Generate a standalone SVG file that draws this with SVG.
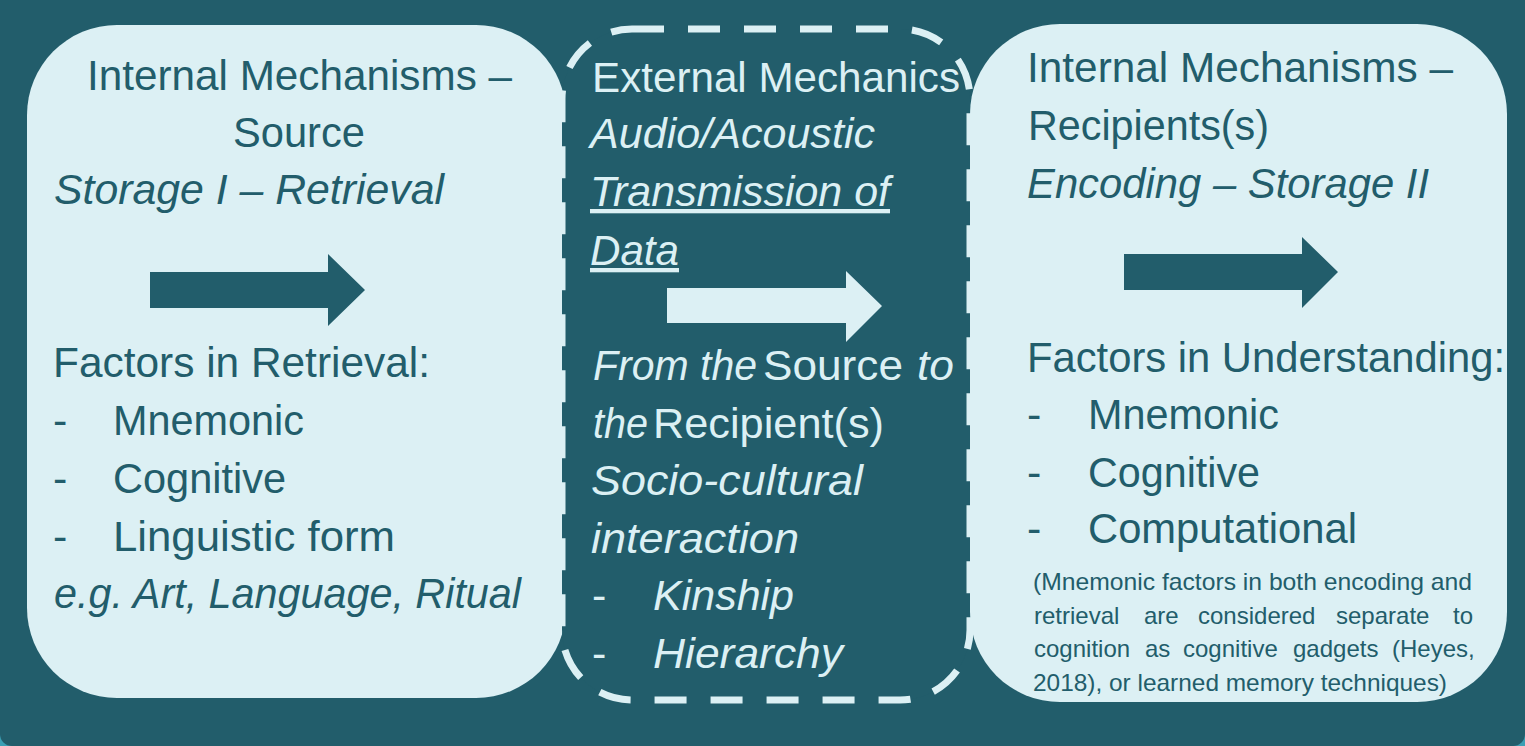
<svg xmlns="http://www.w3.org/2000/svg" width="1525" height="746" viewBox="0 0 1525 746">
<style>
  .t { font-family: "Liberation Sans", Arial, sans-serif; font-size: 43px; }
  .s { font-family: "Liberation Sans", Arial, sans-serif; font-size: 24px; }
  .dk { fill: #225d6b; }
  .lt { fill: #dcf0f4; }
  .it { font-style: italic; }
  .ul { text-decoration: underline; }
  .box { fill: #dcf0f4; }
</style>
<g id="background">
  <rect x="0" y="0" width="1525" height="746" fill="#3b9fb4"/>
  <path d="M0,0 H1525 V734 A12,12 0 0 1 1513,746 H12 A12,12 0 0 1 0,734 Z" fill="#225d6b"/>
</g>
<g id="node-source">
  <rect class="box" x="27" y="25" width="539" height="673" rx="90" ry="90"/>
  <text class="t dk" x="87" y="90" textLength="425" lengthAdjust="spacingAndGlyphs">Internal Mechanisms –</text>
  <text class="t dk" x="233" y="147" textLength="132" lengthAdjust="spacingAndGlyphs">Source</text>
  <text class="t dk it" x="54" y="204" textLength="390" lengthAdjust="spacingAndGlyphs">Storage I – Retrieval</text>
  <text class="t dk" x="53" y="377" textLength="377" lengthAdjust="spacingAndGlyphs">Factors in Retrieval:</text>
  <text class="t dk" x="53" y="435">-</text>
  <text class="t dk" x="113" y="435" textLength="191" lengthAdjust="spacingAndGlyphs">Mnemonic</text>
  <text class="t dk" x="53" y="493">-</text>
  <text class="t dk" x="113" y="493" textLength="173" lengthAdjust="spacingAndGlyphs">Cognitive</text>
  <text class="t dk" x="53" y="551">-</text>
  <text class="t dk" x="113" y="551" textLength="282" lengthAdjust="spacingAndGlyphs">Linguistic form</text>
  <text class="t dk it" x="54" y="608" textLength="467" lengthAdjust="spacingAndGlyphs">e.g. Art, Language, Ritual</text>
</g>
<g id="node-recipient">
  <rect class="box" x="970" y="24" width="537" height="678" rx="90" ry="90"/>
  <text class="t dk" x="1027" y="82" textLength="426" lengthAdjust="spacingAndGlyphs">Internal Mechanisms –</text>
  <text class="t dk" x="1028" y="140" textLength="241" lengthAdjust="spacingAndGlyphs">Recipients(s)</text>
  <text class="t dk it" x="1027" y="198" textLength="402" lengthAdjust="spacingAndGlyphs">Encoding – Storage II</text>
  <text class="t dk" x="1027" y="372" textLength="478" lengthAdjust="spacingAndGlyphs">Factors in Understanding:</text>
  <text class="t dk" x="1027" y="429">-</text>
  <text class="t dk" x="1088" y="429" textLength="191" lengthAdjust="spacingAndGlyphs">Mnemonic</text>
  <text class="t dk" x="1027" y="487">-</text>
  <text class="t dk" x="1088" y="487" textLength="172" lengthAdjust="spacingAndGlyphs">Cognitive</text>
  <text class="t dk" x="1027" y="543">-</text>
  <text class="t dk" x="1088" y="543" textLength="269" lengthAdjust="spacingAndGlyphs">Computational</text>
  <text class="s dk" x="1033" y="590" textLength="439" lengthAdjust="spacingAndGlyphs">(Mnemonic factors in both encoding and</text>
  <text class="s dk" y="624"><tspan x="1034">retrieval</tspan><tspan x="1144">are</tspan><tspan x="1198">considered</tspan><tspan x="1336">separate</tspan><tspan x="1453">to</tspan></text>
  <text class="s dk" y="657"><tspan x="1034">cognition</tspan><tspan x="1145">as</tspan><tspan x="1183">cognitive</tspan><tspan x="1293">gadgets</tspan><tspan x="1392">(Heyes,</tspan></text>
  <text class="s dk" x="1033" y="691" textLength="414" lengthAdjust="spacingAndGlyphs">2018), or learned memory techniques)</text>
</g>
<g id="node-external">
  <rect x="562" y="29" width="408" height="671" rx="70" ry="70" fill="#225d6b" stroke="#dcf0f4" stroke-width="7" stroke-dasharray="32 24"/>
  <text class="t lt" x="592" y="92" textLength="368" lengthAdjust="spacingAndGlyphs">External Mechanics</text>
  <text class="t lt it" x="590" y="148" textLength="285" lengthAdjust="spacingAndGlyphs">Audio/Acoustic</text>
  <text class="t lt it ul" x="590" y="206" textLength="300" lengthAdjust="spacingAndGlyphs">Transmission of</text>
  <text class="t lt it ul" x="590" y="265" textLength="89" lengthAdjust="spacingAndGlyphs">Data</text>
  <text class="t lt it" x="593" y="380" textLength="164" lengthAdjust="spacingAndGlyphs">From the</text>
  <text class="t lt" x="763" y="380" textLength="140" lengthAdjust="spacingAndGlyphs">Source</text>
  <text class="t lt it" x="917" y="380" textLength="37" lengthAdjust="spacingAndGlyphs">to</text>
  <text class="t lt it" x="593" y="438" textLength="55" lengthAdjust="spacingAndGlyphs">the</text>
  <text class="t lt" x="653" y="438" textLength="231" lengthAdjust="spacingAndGlyphs">Recipient(s)</text>
  <text class="t lt it" x="591" y="495" textLength="272" lengthAdjust="spacingAndGlyphs">Socio-cultural</text>
  <text class="t lt it" x="591" y="553" textLength="208" lengthAdjust="spacingAndGlyphs">interaction</text>
  <text class="t lt" x="592" y="610">-</text>
  <text class="t lt it" x="653" y="610" textLength="141" lengthAdjust="spacingAndGlyphs">Kinship</text>
  <text class="t lt" x="592" y="668">-</text>
  <text class="t lt it" x="653" y="668" textLength="190" lengthAdjust="spacingAndGlyphs">Hierarchy</text>
</g>
<g id="connectors">
  <polygon class="dk" points="150,272 328,272 328,254 365,290 328,326 328,308 150,308"/>
  <polygon class="lt" points="667,288 846,288 846,271 882,306 846,342 846,323 667,323"/>
  <polygon class="dk" points="1124,254 1302,254 1302,237 1338,272 1302,308 1302,290 1124,290"/>
</g>
</svg>
